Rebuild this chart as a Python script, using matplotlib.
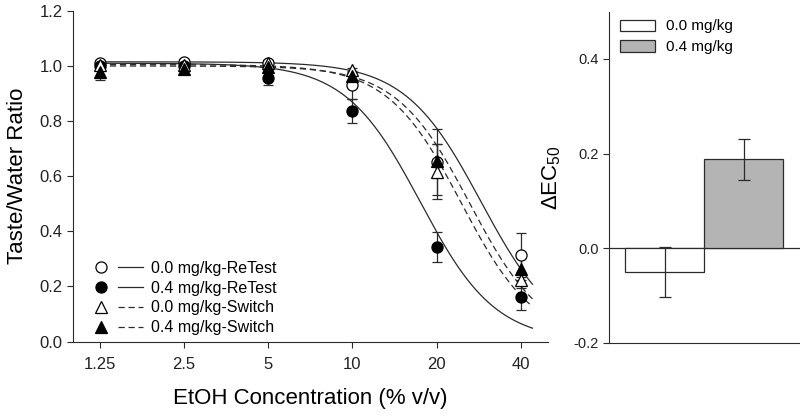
import numpy as np
import matplotlib
matplotlib.use("Agg")
import matplotlib.pyplot as plt
from matplotlib.legend_handler import HandlerTuple
from matplotlib.lines import Line2D

# Font / style settings
FONT_CHOICE = ["Liberation Sans", "DejaVu Sans"]
LINE_COLOR = "#2b2b2b"
plt.rcParams['font.family'] = FONT_CHOICE
plt.rcParams['mathtext.default'] = 'regular'
plt.rcParams['axes.linewidth'] = 0.8

# ---- Left panel data: EtOH concentration vs taste/water ratio ----
conc = [1.25, 2.5, 5, 10, 20, 40]
conc_labels = ['1.25', '2.5', '5', '10', '20', '40']

retest_00 = [1.012, 1.015, 1.010, 0.930, 0.650, 0.315]
retest_00_err = [0.010, 0.010, 0.010, 0.050, 0.120, 0.080]
retest_04 = [1.000, 1.000, 0.955, 0.836, 0.342, 0.160]
retest_04_err = [0.010, 0.010, 0.025, 0.043, 0.055, 0.045]
switch_00 = [1.005, 1.005, 1.012, 0.984, 0.616, 0.224]
switch_00_err = [0.010, 0.015, 0.010, 0.010, 0.100, 0.030]
switch_04 = [0.978, 0.990, 0.997, 0.963, 0.655, 0.262]
switch_04_err = [0.030, 0.020, 0.010, 0.015, 0.060, 0.040]

# sigmoid fit parameters (top, bottom, EC50, hill slope)
fit_retest_00 = (1.015, 0.0, 28.8, 3.2)
fit_retest_04 = (1.010, 0.0, 17.5, 3.24)
fit_switch_00 = (1.005, 0.0, 24.5, 3.3)
fit_switch_04 = (1.000, 0.0, 26.3, 3.3)
fit_range = (1.25, 44)

# ---- Right panel data: delta EC50 ----
groups = ['0.0 mg/kg', '0.4 mg/kg']
delta_ec50 = [-0.050, 0.188]
delta_ec50_err = [0.053, 0.043]
bar_colors = ['white', '#b4b4b4']


def logistic(x, params):
    top, bottom, ec50, hill = params
    return bottom + (top - bottom) / (1 + (x / ec50) ** hill)


fig = plt.figure(figsize=(8, 4.17), dpi=100)
ax = fig.add_axes([0.091, 0.181, 0.594, 0.793])

xs = np.geomspace(fit_range[0], fit_range[1], 300)
series = [
    (retest_00, retest_00_err, fit_retest_00, 'o', 'white', '-', '0.0 mg/kg-ReTest'),
    (retest_04, retest_04_err, fit_retest_04, 'o', 'black', '-', '0.4 mg/kg-ReTest'),
    (switch_00, switch_00_err, fit_switch_00, '^', 'white', (0, (5, 3)), '0.0 mg/kg-Switch'),
    (switch_04, switch_04_err, fit_switch_04, '^', 'black', (0, (5, 3)), '0.4 mg/kg-Switch'),
]

handles = []
labels = []
for vals, errs, fit, mk, fc, ls, lab in series:
    ax.plot(xs, logistic(xs, fit), color=LINE_COLOR, lw=0.9, ls=ls, zorder=2)
    ax.errorbar(conc, vals, yerr=errs, fmt='none', ecolor=LINE_COLOR,
                elinewidth=0.9, capsize=3.8, capthick=0.9, zorder=3)
    ax.plot(conc, vals, ls='none', marker=mk, ms=8, mfc=fc, mec='black',
            mew=0.9, zorder=4)
    h_mark = Line2D([], [], ls='none', marker=mk, ms=8, mfc=fc, mec='black', mew=0.9)
    h_line = Line2D([], [], color=LINE_COLOR, lw=0.9, ls=ls)
    handles.append((h_mark, h_line))
    labels.append(lab)

ax.set_xscale('log')
ax.set_xlim(1.0, 50)
ax.set_ylim(0, 1.2)
ax.set_xticks(conc)
ax.set_xticklabels(conc_labels)
ax.minorticks_off()
ax.set_yticks(np.arange(0, 1.21, 0.2))
ax.set_yticklabels(['%.1f' % v for v in np.arange(0, 1.21, 0.2)])
ax.tick_params(direction='out', length=4, width=0.8, labelsize=12,
               colors=LINE_COLOR, labelcolor='#222222')
ax.tick_params(axis='x', pad=7)
for s in ['top', 'right']:
    ax.spines[s].set_visible(False)
for s in ['left', 'bottom']:
    ax.spines[s].set_color(LINE_COLOR)
ax.set_xlabel('EtOH Concentration (% v/v)', fontsize=16, labelpad=12)
ax.set_ylabel('Taste/Water Ratio', fontsize=16, labelpad=8)

ax.legend(handles, labels, handler_map={tuple: HandlerTuple(ndivide=None, pad=0.3)},
          loc='lower left', bbox_to_anchor=(0.02, 0.0), frameon=False,
          fontsize=11.5, handlelength=3.4, handletextpad=0.5, labelspacing=0.3,
          borderaxespad=0)

# ---- Right panel ----
ax2 = fig.add_axes([0.7616, 0.178, 0.2384, 0.794])
pos = np.arange(len(groups))
ax2.bar(pos, delta_ec50, width=1.0, color=bar_colors, edgecolor=LINE_COLOR,
        linewidth=0.9, label=None, zorder=2)
ax2.errorbar(pos, delta_ec50, yerr=delta_ec50_err, fmt='none', ecolor=LINE_COLOR,
             elinewidth=0.9, capsize=4.5, capthick=0.9, zorder=3)
ax2.axhline(0, color=LINE_COLOR, lw=0.9, zorder=1)
ax2.set_xlim(-0.70, 1.71)
ax2.set_ylim(-0.2, 0.5)
ax2.set_xticks([])
ax2.set_yticks([-0.2, 0.0, 0.2, 0.4])
ax2.set_yticklabels(['-0.2', '0.0', '0.2', '0.4'])
ax2.tick_params(direction='out', length=4, width=0.8, labelsize=10.5,
                colors=LINE_COLOR, labelcolor='#222222')
for s in ['top', 'right']:
    ax2.spines[s].set_visible(False)
for s in ['left', 'bottom']:
    ax2.spines[s].set_color(LINE_COLOR)
ax2.set_ylabel('ΔEC$_{50}$', fontsize=16, labelpad=8)

patches = [matplotlib.patches.Patch(facecolor=c, edgecolor=LINE_COLOR, lw=0.9)
           for c in bar_colors]
ax2.legend(patches, groups, loc='upper left', bbox_to_anchor=(0.025, 0.995),
           frameon=False, fontsize=11, handlelength=2.3, handleheight=0.75,
           handletextpad=0.7, labelspacing=0.45, borderaxespad=0)

fig.savefig('out.png', dpi=100)
